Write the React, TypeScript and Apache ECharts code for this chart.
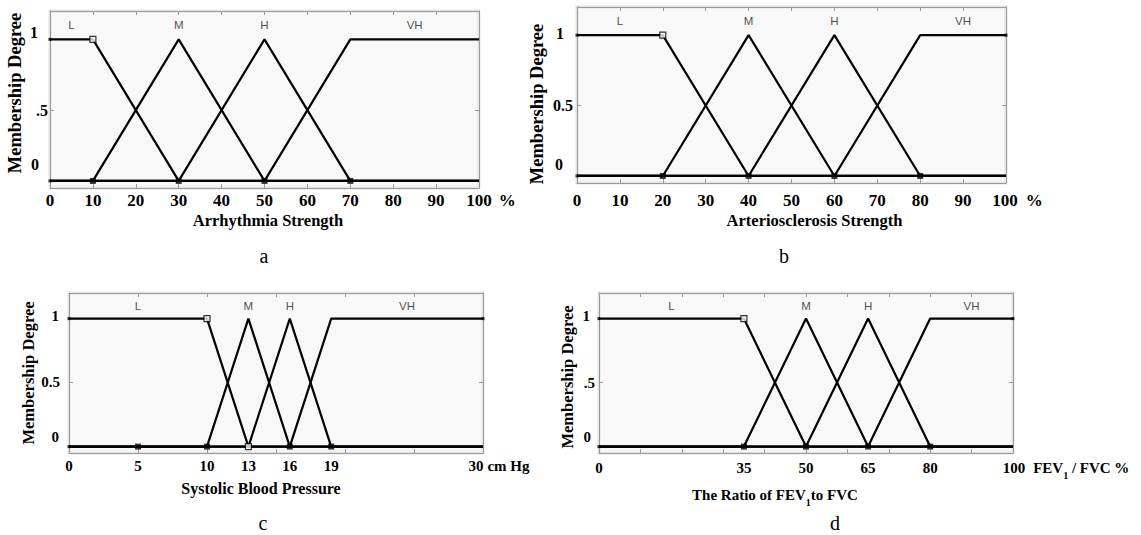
import React, { useEffect, useRef } from 'react';
import * as echarts from 'echarts';

// ---------- data ----------
const letters = ['a', 'b', 'c', 'd'];
const yTickValues = [0, 0.5, 1];
const termLevel = 1.1;

// panel a
const aName = 'Arrhythmia Strength';
const aMax = 100;
const aTicks = [10, 20, 30, 40, 50, 60, 70, 80, 90];
const aLabelValues = [0, 10, 20, 30, 40, 50, 60, 70, 80, 90, 100];
const aUnitParts = [['u', '%']];
const aYLabels = ['0', '.5', '1'];
const aL = [[0, 1], [10, 1], [30, 0], [100, 0]];
const aM = [[0, 0], [10, 0], [30, 1], [50, 0], [100, 0]];
const aH = [[0, 0], [30, 0], [50, 1], [70, 0], [100, 0]];
const aVH = [[0, 0], [50, 0], [70, 1], [100, 1]];
const aFilled = [[10, 0], [30, 0], [50, 0], [70, 0]];
const aOpen = [[10, 1]];
const aEnds = [[0, 1], [0, 0]];
const aTerms = [['L', 5], ['M', 30], ['H', 50], ['VH', 85]];

// panel b
const bName = 'Arteriosclerosis Strength';
const bMax = 100;
const bTicks = [10, 20, 30, 40, 50, 60, 70, 80, 90];
const bLabelValues = [0, 10, 20, 30, 40, 50, 60, 70, 80, 90, 100];
const bUnitParts = [['u', '%']];
const bYLabels = ['0', '0.5', '1'];
const bL = [[0, 1], [20, 1], [40, 0], [100, 0]];
const bM = [[0, 0], [20, 0], [40, 1], [60, 0], [100, 0]];
const bH = [[0, 0], [40, 0], [60, 1], [80, 0], [100, 0]];
const bVH = [[0, 0], [60, 0], [80, 1], [100, 1]];
const bFilled = [[20, 0], [40, 0], [60, 0], [80, 0]];
const bOpen = [[20, 1]];
const bEnds = [[0, 1], [0, 0], [100, 1]];
const bTerms = [['L', 10], ['M', 40], ['H', 60], ['VH', 90]];

// panel c
const cName = 'Systolic Blood Pressure';
const cMax = 30;
const cTicks = [5, 10, 15, 20, 25];
const cLabelValues = [0, 5, 10, 13, 16, 19, 30];
const cUnitParts = [['u', 'cm Hg']];
const cYLabels = ['0', '0.5', '1'];
const cL = [[0, 1], [10, 1], [13, 0], [30, 0]];
const cM = [[0, 0], [10, 0], [13, 1], [16, 0], [30, 0]];
const cH = [[0, 0], [13, 0], [16, 1], [19, 0], [30, 0]];
const cVH = [[0, 0], [16, 0], [19, 1], [30, 1]];
const cFilled = [[5, 0], [10, 0], [16, 0], [19, 0]];
const cOpen = [[10, 1], [13, 0]];
const cEnds = [[0, 1], [0, 0], [30, 1]];
const cTerms = [['L', 5], ['M', 13], ['H', 16], ['VH', 24.5]];

// panel d
const dNameParts = [['t', 'The Ratio of FEV'], ['s', '1'], ['t', 'to FVC']];
const dMax = 100;
const dTicks = [10, 20, 30, 40, 50, 60, 70, 80, 90];
const dLabelValues = [0, 35, 50, 65, 80, 100];
const dUnitParts = [['u', 'FEV'], ['s', '1'], ['w', ' / FVC %']];
const dYLabels = ['0', '.5', '1'];
const dL = [[0, 1], [35, 1], [50, 0], [100, 0]];
const dM = [[0, 0], [35, 0], [50, 1], [65, 0], [100, 0]];
const dH = [[0, 0], [50, 0], [65, 1], [80, 0], [100, 0]];
const dVH = [[0, 0], [65, 0], [80, 1], [100, 1]];
const dFilled = [[35, 0], [50, 0], [65, 0], [80, 0]];
const dOpen = [[35, 1]];
const dEnds = [[0, 1], [0, 0], [100, 1]];
const dTerms = [['L', 17.5], ['M', 50], ['H', 65], ['VH', 90]];

const panels = [
  { name: [['t', aName]], max: aMax, ticks: aTicks, labelValues: aLabelValues, unit: aUnitParts, yLabels: aYLabels, mfs: [aL, aM, aH, aVH], filled: aFilled, open: aOpen, ends: aEnds, terms: aTerms },
  { name: [['t', bName]], max: bMax, ticks: bTicks, labelValues: bLabelValues, unit: bUnitParts, yLabels: bYLabels, mfs: [bL, bM, bH, bVH], filled: bFilled, open: bOpen, ends: bEnds, terms: bTerms },
  { name: [['t', cName]], max: cMax, ticks: cTicks, labelValues: cLabelValues, unit: cUnitParts, yLabels: cYLabels, mfs: [cL, cM, cH, cVH], filled: cFilled, open: cOpen, ends: cEnds, terms: cTerms },
  { name: dNameParts, max: dMax, ticks: dTicks, labelValues: dLabelValues, unit: dUnitParts, yLabels: dYLabels, mfs: [dL, dM, dH, dVH], filled: dFilled, open: dOpen, ends: dEnds, terms: dTerms },
];

// ---------- layout / style ----------
const SERIF = '"Liberation Serif", "Times New Roman", serif';
const SANS = '"Liberation Sans", Arial, sans-serif';
const BORDER = '#9a9a9a';

const layouts = [
  {
    grid: { left: 50, top: 11, width: 429, height: 177 },
    tickFont: 17, xLabelMargin: 4, unitLead: 24, unitPad: 7,
    xNameFont: 16.5, xNameGap: 24, xNamePad: [0, 0, 0, 7],
    yNameFont: 18.5, yNameGap: 26, yNamePad: [0, 0, 0, 13],
    yLabelFont: 16, yShift: [[16, 11], [0, 2], [7, 12]],
    letter: [264, 256],
  },
  {
    grid: { left: 577, top: 7, width: 429, height: 176 },
    tickFont: 17, xLabelMargin: 9, unitLead: 23, unitPad: 8,
    xNameFont: 16.5, xNameGap: 29, xNamePad: [0, 0, 0, 46],
    yNameFont: 18.5, yNameGap: 31, yNamePad: [0, 18, 0, 0],
    yLabelFont: 16, yShift: [[11, 14], [0, 4], [2, 13]],
    letter: [784, 256],
  },
  {
    grid: { left: 69, top: 293, width: 414, height: 160 },
    tickFont: 15, xLabelMargin: 5, unitLead: 32, unitPad: 4,
    xNameFont: 16, xNameGap: 27, xNamePad: [0, 30, 0, 0],
    yNameFont: 16.5, yNameGap: 31, yNamePad: [0, 0, 0, 0],
    yLabelFont: 15, yShift: [[10, 10], [1, 9], [3, 10]],
    letter: [263, 523],
  },
  {
    grid: { left: 599, top: 293, width: 414, height: 160 },
    tickFont: 15, xLabelMargin: 7, unitLead: 106, unitPad: 8,
    xNameFont: 15, xNameGap: 34, xNamePad: [0, 62, 0, 0],
    yNameFont: 16.5, yNameGap: 23, yNamePad: [0, 8, 0, 0],
    yLabelFont: 15, yShift: [[10, 8], [0, 4], [3, 9]],
    letter: [835, 523],
  },
];

function fmtNum(v: number) {
  return String(Math.round(v * 1000) / 1000);
}

function buildOption() {
  const grid: any[] = [];
  const xAxis: any[] = [];
  const yAxis: any[] = [];
  const series: any[] = [];
  const graphic: any[] = [];

  panels.forEach((p, i) => {
    const L = layouts[i];
    grid.push({
      ...L.grid,
      show: true,
      backgroundColor: '#f8f8f8',
      borderColor: '#e4e4e4',
      borderWidth: 3,
      containLabel: false,
    });

    const unitStr = p.unit.map(([k, t]) => `{${k}|${t}}`).join('');
    const nameStr = p.name.map(([k, t]) => `{${k}|${t}}`).join('');

    const lineCommon = { show: true, onZero: false, lineStyle: { color: BORDER, width: 1 } };
    const tickCommon = { show: true, inside: true, length: 4, customValues: p.ticks, lineStyle: { color: BORDER, width: 1 } };

    xAxis.push({
      gridIndex: i,
      type: 'value',
      min: 0,
      max: p.max,
      position: 'bottom',
      axisLine: lineCommon,
      axisTick: tickCommon,
      splitLine: { show: false },
      axisLabel: {
        show: true,
        customValues: p.labelValues,
        margin: L.xLabelMargin,
        fontFamily: SERIF,
        fontWeight: 'bold',
        fontSize: L.tickFont,
        color: '#000',
        formatter: (v: number) =>
          Math.abs(v - p.max) < 1e-9
            ? `{l| }{v|${fmtNum(v)}}${unitStr}`
            : `{v|${fmtNum(v)}}`,
        rich: {
          l: { width: L.unitLead, verticalAlign: 'top' },
          v: { verticalAlign: 'top' },
          u: { padding: [0, 0, 0, L.unitPad], verticalAlign: 'top' },
          w: { verticalAlign: 'top' },
          s: { fontSize: 10, padding: [10, 0, 0, 0], verticalAlign: 'top' },
        },
      },
      name: nameStr,
      nameLocation: 'middle',
      nameGap: L.xNameGap,
      nameTextStyle: {
        fontFamily: SERIF,
        fontWeight: 'bold',
        fontSize: L.xNameFont,
        color: '#000',
        padding: L.xNamePad,
        rich: {
          t: { verticalAlign: 'top', fontFamily: SERIF, fontWeight: 'bold', fontSize: L.xNameFont },
          s: { verticalAlign: 'top', fontFamily: SERIF, fontWeight: 'bold', fontSize: 10, padding: [10, 0, 0, 0] },
        },
      },
    });
    xAxis.push({
      gridIndex: i,
      type: 'value',
      min: 0,
      max: p.max,
      position: 'top',
      axisLine: lineCommon,
      axisTick: tickCommon,
      axisLabel: { show: false },
      splitLine: { show: false },
    });

    const yRich: any = {};
    L.yShift.forEach(([up, gap], k) => {
      yRich['y' + k] = { padding: [0, Math.max(0, gap - 2), up * 2, 0] };
    });

    yAxis.push({
      gridIndex: i,
      type: 'value',
      min: -0.05,
      max: 1.2,
      position: 'left',
      axisLine: lineCommon,
      axisTick: { ...tickCommon, customValues: yTickValues },
      splitLine: { show: false },
      axisLabel: {
        show: true,
        customValues: yTickValues,
        margin: 2,
        fontFamily: SERIF,
        fontWeight: 'bold',
        fontSize: L.yLabelFont,
        color: '#000',
        formatter: (v: number) => {
          const k = yTickValues.findIndex((t) => Math.abs(t - v) < 1e-9);
          return k < 0 ? '' : `{y${k}|${p.yLabels[k]}}`;
        },
        rich: yRich,
      },
      name: 'Membership Degree',
      nameLocation: 'middle',
      nameRotate: 90,
      nameGap: L.yNameGap,
      nameTextStyle: {
        fontFamily: SERIF,
        fontWeight: 'bold',
        fontSize: L.yNameFont,
        color: '#000',
        padding: L.yNamePad,
      },
    });
    yAxis.push({
      gridIndex: i,
      type: 'value',
      min: -0.05,
      max: 1.2,
      position: 'right',
      axisLine: lineCommon,
      axisTick: { ...tickCommon, customValues: yTickValues },
      axisLabel: { show: false },
      splitLine: { show: false },
    });

    const xi = 2 * i;
    const yi = 2 * i;
    p.mfs.forEach((mf) => {
      series.push({
        type: 'line',
        xAxisIndex: xi,
        yAxisIndex: yi,
        data: mf,
        symbol: 'none',
        showSymbol: false,
        lineStyle: { color: '#000', width: 2.2 },
        z: 3,
      });
    });
    series.push({
      type: 'scatter',
      xAxisIndex: xi,
      yAxisIndex: yi,
      data: p.ends,
      symbol: 'rect',
      symbolSize: 3,
      itemStyle: { color: '#000' },
      z: 4,
    });
    series.push({
      type: 'scatter',
      xAxisIndex: xi,
      yAxisIndex: yi,
      data: p.filled,
      symbol: 'rect',
      symbolSize: 6,
      itemStyle: { color: '#000' },
      z: 5,
    });
    series.push({
      type: 'scatter',
      xAxisIndex: xi,
      yAxisIndex: yi,
      data: p.open,
      symbol: 'rect',
      symbolSize: 6,
      itemStyle: { color: '#f8f8f8', borderColor: '#000', borderWidth: 1.2 },
      z: 6,
    });
    series.push({
      type: 'scatter',
      xAxisIndex: xi,
      yAxisIndex: yi,
      data: p.terms.map(([n, x]) => ({ name: n, value: [x, termLevel] })),
      symbolSize: 1,
      itemStyle: { color: 'rgba(0,0,0,0)' },
      label: {
        show: true,
        position: 'inside',
        formatter: '{b}',
        fontFamily: SANS,
        fontSize: 11.5,
        color: '#222',
      },
      z: 7,
    });

    graphic.push({
      type: 'text',
      x: L.letter[0],
      y: L.letter[1],
      style: {
        text: letters[i],
        font: `20px ${SERIF}`,
        fill: '#000',
        textAlign: 'center',
        textVerticalAlign: 'middle',
        align: 'center',
        verticalAlign: 'middle',
      },
    });
  });

  return {
    animation: false,
    backgroundColor: '#ffffff',
    grid,
    xAxis,
    yAxis,
    series,
    graphic,
  };
}

export default function App() {
  const ref = useRef<HTMLDivElement>(null);
  useEffect(() => {
    if (!ref.current) return;
    const chart = echarts.init(ref.current, null, { renderer: 'svg' });
    chart.setOption(buildOption() as any);
    return () => chart.dispose();
  }, []);
  return (
    <div
      ref={ref}
      style={{ position: 'fixed', left: 0, top: 0, width: 1141, height: 535, background: '#fff' }}
    />
  );
}
